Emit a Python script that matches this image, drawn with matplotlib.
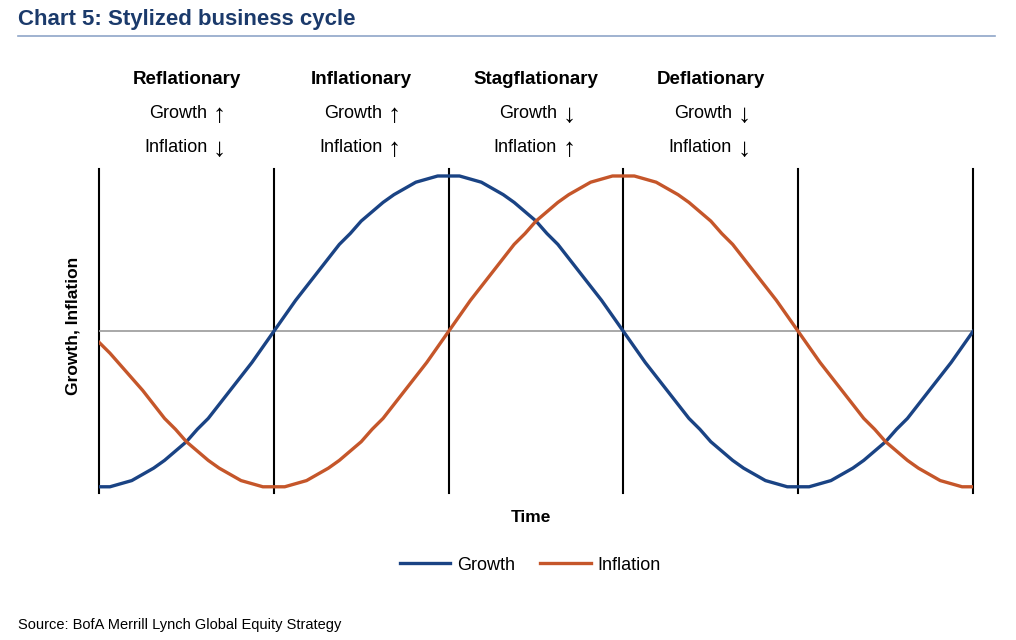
import numpy as np
import matplotlib
matplotlib.use('Agg')
from matplotlib import pyplot as plt
from matplotlib import transforms

# Datos (tiempo en cuartos de ciclo, 16 muestras por fase)
growth = [
    -1.00, -1.00, -0.98, -0.96, -0.92, -0.88, -0.83, -0.77, -0.71, -0.63, -0.56, -0.47, -0.38, -0.29, -0.20, -0.10,
    0.00, 0.10, 0.20, 0.29, 0.38, 0.47, 0.56, 0.63, 0.71, 0.77, 0.83, 0.88, 0.92, 0.96, 0.98, 1.00,
    1.00, 1.00, 0.98, 0.96, 0.92, 0.88, 0.83, 0.77, 0.71, 0.63, 0.56, 0.47, 0.38, 0.29, 0.20, 0.10,
    0.00, -0.10, -0.20, -0.29, -0.38, -0.47, -0.56, -0.63, -0.71, -0.77, -0.83, -0.88, -0.92, -0.96, -0.98, -1.00,
    -1.00, -1.00, -0.98, -0.96, -0.92, -0.88, -0.83, -0.77, -0.71, -0.63, -0.56, -0.47, -0.38, -0.29, -0.20, -0.10,
    0.00,
]
inflation = [
    -0.07, -0.14, -0.22, -0.30, -0.38, -0.47, -0.56, -0.63, -0.71, -0.77, -0.83, -0.88, -0.92, -0.96, -0.98, -1.00,
    -1.00, -1.00, -0.98, -0.96, -0.92, -0.88, -0.83, -0.77, -0.71, -0.63, -0.56, -0.47, -0.38, -0.29, -0.20, -0.10,
    0.00, 0.10, 0.20, 0.29, 0.38, 0.47, 0.56, 0.63, 0.71, 0.77, 0.83, 0.88, 0.92, 0.96, 0.98, 1.00,
    1.00, 1.00, 0.98, 0.96, 0.92, 0.88, 0.83, 0.77, 0.71, 0.63, 0.56, 0.47, 0.38, 0.29, 0.20, 0.10,
    0.00, -0.10, -0.20, -0.29, -0.38, -0.47, -0.56, -0.63, -0.71, -0.77, -0.83, -0.88, -0.92, -0.96, -0.98, -1.00,
    -1.00,
]
phase_edges = [0, 1, 2, 3, 4, 5]
phase_names = ['Reflationary', 'Inflationary', 'Stagflationary', 'Deflationary']
growth_arrows = ['\u2191', '\u2191', '\u2193', '\u2193']
inflation_arrows = ['\u2193', '\u2191', '\u2191', '\u2193']

time = np.arange(len(growth)) / 16.0

plt.rcParams['font.family'] = ['Liberation Sans', 'DejaVu Sans']

c_growth = '#1A4384'
c_infl = '#C5562A'
c_title = '#1B3A6B'

fig = plt.figure(figsize=(10.16, 6.4), dpi=100)
ax = fig.add_axes([99 / 1016, (640 - 493) / 640, (973 - 99) / 1016, (493 - 169) / 640])

for x in phase_edges:
    ax.axvline(x, color='black', lw=1.5, zorder=1, clip_on=False)
ax.axhline(0, color='#9a9a9a', lw=1.2, zorder=1)

ax.plot(time, growth, color=c_growth, lw=2.4, label='Growth', zorder=3, solid_joinstyle='round')
ax.plot(time, inflation, color=c_infl, lw=2.4, label='Inflation', zorder=3, solid_joinstyle='round')

ax.set_xlim(phase_edges[0], phase_edges[-1])
ax.set_ylim(-1.04, 1.045)
for s in ax.spines.values():
    s.set_visible(False)
ax.set_xticks([])
ax.set_yticks([])

# Etiquetas de fases
bt = transforms.blended_transform_factory(ax.transData, fig.transFigure)
px = (phase_edges[-1] - phase_edges[0]) / (973 - 99)  # unidades de datos por pixel
for i, name in enumerate(phase_names):
    xm = (phase_edges[i] + phase_edges[i + 1]) / 2
    ax.text(xm, 1 - 80 / 640, name, transform=bt, ha='center', va='center',
            fontsize=13.5, fontweight='bold')
    ax.text(xm + 21 * px, 1 - 113 / 640, 'Growth', transform=bt, ha='right', va='center', fontsize=13)
    ax.text(xm + 33 * px, 1 - 115 / 640, growth_arrows[i], transform=bt, ha='center', va='center',
            fontsize=19)
    ax.text(xm + 21 * px, 1 - 147 / 640, 'Inflation', transform=bt, ha='right', va='center', fontsize=13)
    ax.text(xm + 33 * px, 1 - 149 / 640, inflation_arrows[i], transform=bt, ha='center', va='center',
            fontsize=19)

fig.text(73 / 1016, 1 - 326 / 640, 'Growth, Inflation', rotation=90, ha='center', va='center',
         fontsize=12.5, fontweight='bold')
fig.text(531 / 1016, 1 - 517 / 640, 'Time', ha='center', va='center', fontsize=12.5, fontweight='bold')

fig.legend(loc='center', bbox_to_anchor=(530 / 1016, 1 - 565 / 640), ncol=2, frameon=False,
           fontsize=13, handlelength=2.8, handletextpad=0.35, columnspacing=1.4)

# Titulo
fig.text(18 / 1016, 1 - 19 / 640, 'Chart 5: Stylized business cycle', ha='left', va='center',
         fontsize=16, fontweight='bold', color=c_title)
fig.add_artist(plt.Line2D([18 / 1016, 995 / 1016], [1 - 36 / 640, 1 - 36 / 640], color='#8FA6C8', lw=1.2))

fig.text(18 / 1016, 1 - 625 / 640, 'Source: BofA Merrill Lynch Global Equity Strategy', ha='left', va='center',
         fontsize=10.5)

fig.savefig('out.png', dpi=100)
